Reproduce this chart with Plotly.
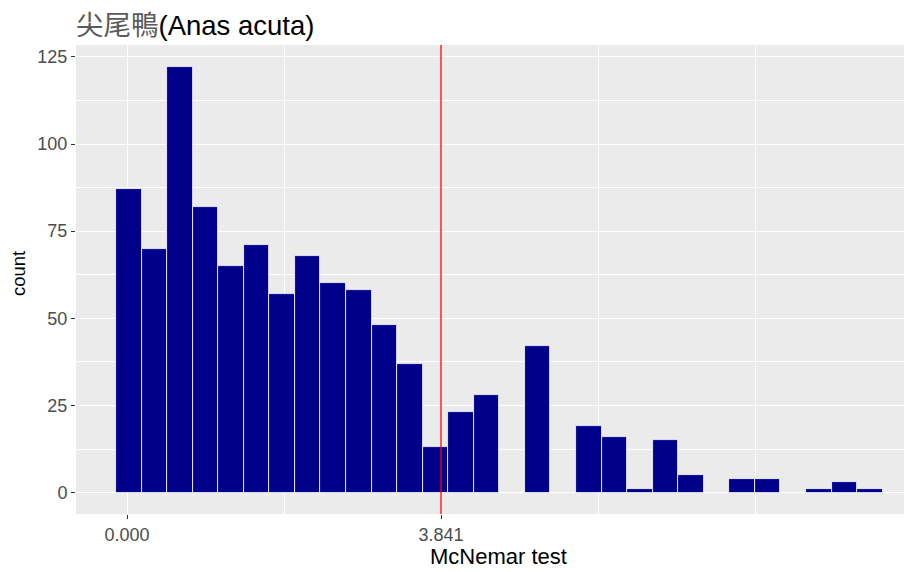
import plotly.graph_objects as go

# Histogram bins (30 bins) of McNemar test statistic
bin_start = 0.022          # centre of the first bin
bin_width = 0.3126
counts = [87, 70, 122, 82, 65, 71, 57, 68, 60, 58, 48, 37, 13, 23, 28,
          0, 42, 0, 19, 16, 1, 15, 5, 0, 4, 4, 0, 1, 3, 1]
critical_value = 3.841
x_tick_vals = [0, 3.841]
x_tick_text = ["0.000", "3.841"]
y_tick_vals = [0, 25, 50, 75, 100, 125]

centers = [bin_start + i * bin_width for i in range(len(counts))]

fig = go.Figure()
fig.add_trace(go.Bar(
    x=centers, y=counts, width=bin_width,
    marker=dict(color="#00008B", line=dict(color="white", width=0.8)),
    hoverinfo="x+y",
))

fig.add_shape(type="line", xref="x", yref="paper",
              x0=critical_value, x1=critical_value, y0=0, y1=1,
              line=dict(color="#FF0000", width=1.3), layer="above")

font_family = "Liberation Sans, Arial, Noto Sans CJK TC, Noto Sans CJK SC, sans-serif"

# page body has an 8px margin, so the figure is laid out 8px in from the window
OFF = 8
W, H = 912, 572 - OFF
L, T = 76 - OFF, 45 - OFF
B = H - (514 - OFF)
pw, ph = W - L, H - T - B
PX0, PY0 = 76, 45     # panel origin in window pixels

fig.update_layout(
    width=W, height=H,
    margin=dict(l=L, r=0, t=T, b=B, pad=0),
    paper_bgcolor="white",
    plot_bgcolor="#EBEBEB",
    showlegend=False,
    bargap=0,
    font=dict(family=font_family, color="#000000"),
    title=dict(text="<span style='color:#5a5a5a'>尖尾鴨</span>(Anas acuta)",
               x=L / W, xanchor="left",
               y=1 - (25 - OFF) / H, yanchor="middle", yref="container",
               font=dict(size=27.5, color="#000000", family=font_family)),
    xaxis=dict(
        range=[-0.624, 9.70], automargin=False,
        tickvals=x_tick_vals, ticktext=x_tick_text,
        ticks="outside", ticklen=4, tickwidth=1.2, tickcolor="#333333",
        tickfont=dict(size=18, color="#4D4D4D"),
        showgrid=True, gridcolor="white", gridwidth=1.4,
        minor=dict(tickvals=[1.9205, 5.7615, 7.682], showgrid=True,
                   gridcolor="white", gridwidth=0.7, ticks=""),
        zeroline=False, showline=False,
    ),
    yaxis=dict(
        range=[-6.12, 128.4], automargin=False,
        tickvals=y_tick_vals,
        ticks="outside", ticklen=4, tickwidth=1.2, tickcolor="#333333",
        tickfont=dict(size=18, color="#4D4D4D"),
        showgrid=True, gridcolor="white", gridwidth=1.4,
        minor=dict(tickvals=[12.5, 37.5, 62.5, 87.5, 112.5], showgrid=True,
                   gridcolor="white", gridwidth=0.7, ticks=""),
        zeroline=False, showline=False,
    ),
    annotations=[
        dict(text="McNemar test", xref="paper", yref="paper",
             x=(498 - PX0) / pw, y=(ph - (556 - PY0)) / ph,
             xanchor="center", yanchor="middle", showarrow=False,
             font=dict(size=22, color="#000000")),
        dict(text="count", xref="paper", yref="paper",
             x=(18 - PX0) / pw, y=(ph - (274 - PY0)) / ph, textangle=-90,
             xanchor="center", yanchor="middle", showarrow=False,
             font=dict(size=18.5, color="#000000")),
    ],
)

fig.write_html("out.html")
